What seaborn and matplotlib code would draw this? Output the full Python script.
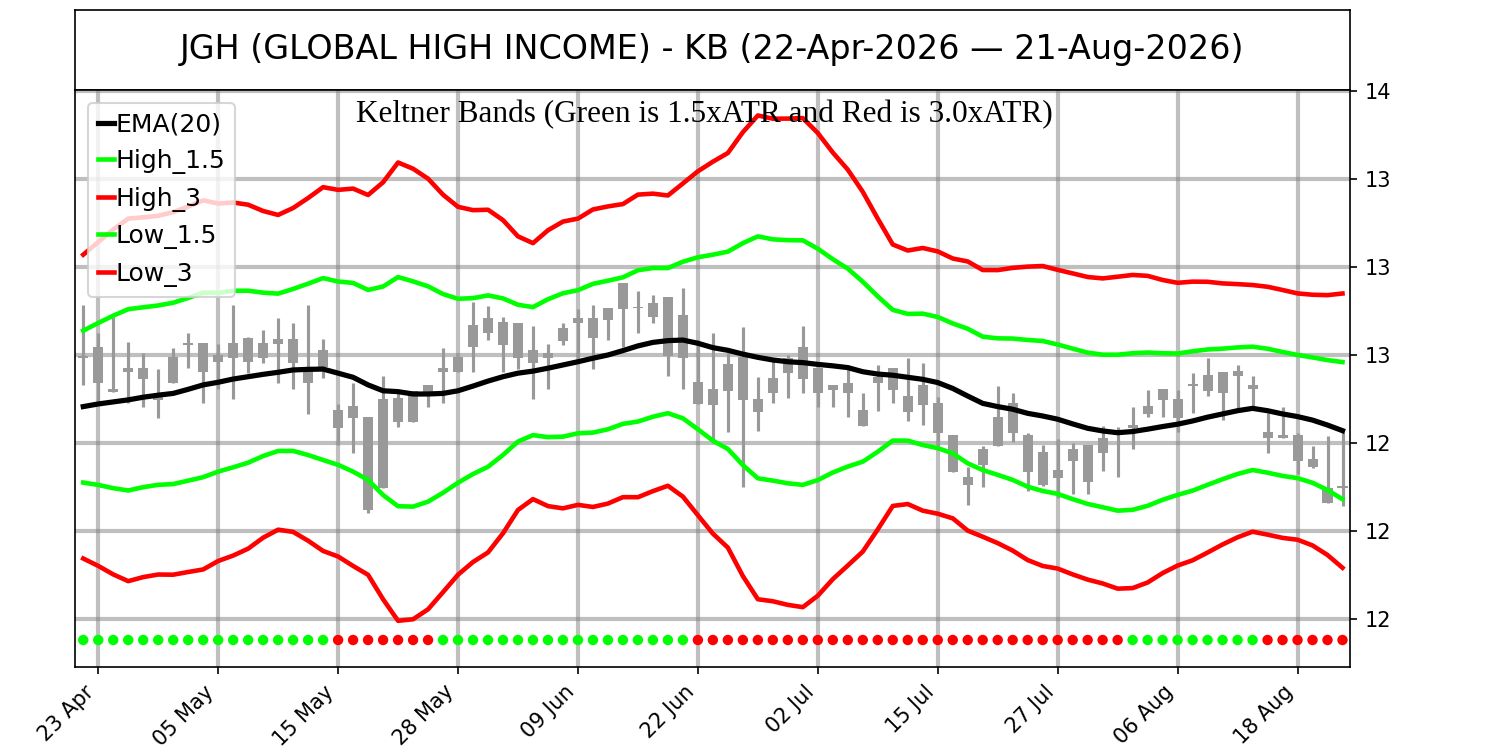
import matplotlib
matplotlib.use("Agg")
import numpy as np
import pandas as pd
import matplotlib.pyplot as plt
import seaborn as sns

# --- data (one bar per trading day, 22-Apr .. 21-Aug) ---
highs = [12.970, 12.875, 12.930, 12.844, 12.807, 12.752, 12.824, 12.875, 12.841, 12.838,
         12.970, 12.861, 12.885, 12.926, 12.909, 12.970, 12.855, 12.633, 12.705, 12.589,
         12.728, 12.670, 12.677, 12.698, 12.824, 12.793, 12.981, 12.967, 12.930, 12.909,
         12.899, 12.838, 12.909, 12.957, 12.970, 12.960, 13.045, 13.018, 13.005, 12.998,
         13.028, 12.851, 12.875, 12.807, 12.895, 12.725, 12.790, 12.800, 12.899, 12.759,
         12.698, 12.766, 12.670, 12.766, 12.756, 12.790, 12.773, 12.657, 12.527, 12.418,
         12.490, 12.694, 12.670, 12.534, 12.493, 12.514, 12.500, 12.493, 12.558, 12.555,
         12.623, 12.681, 12.684, 12.681, 12.739, 12.790, 12.742, 12.766, 12.728, 12.602,
         12.623, 12.534, 12.490, 12.524, 12.538]
lows = [12.698, 12.640, 12.674, 12.636, 12.623, 12.585, 12.705, 12.756, 12.636, 12.684,
        12.650, 12.739, 12.773, 12.705, 12.684, 12.599, 12.722, 12.493, 12.466, 12.261,
        12.347, 12.555, 12.572, 12.623, 12.636, 12.742, 12.742, 12.851, 12.742, 12.752,
        12.650, 12.684, 12.834, 12.790, 12.752, 12.851, 12.827, 12.875, 12.909, 12.728,
        12.684, 12.633, 12.500, 12.538, 12.350, 12.541, 12.636, 12.653, 12.670, 12.623,
        12.623, 12.589, 12.558, 12.609, 12.636, 12.575, 12.561, 12.476, 12.401, 12.289,
        12.350, 12.490, 12.503, 12.336, 12.353, 12.313, 12.326, 12.326, 12.405, 12.384,
        12.480, 12.589, 12.589, 12.538, 12.602, 12.660, 12.578, 12.613, 12.623, 12.466,
        12.517, 12.394, 12.415, 12.295, 12.285]
opens = [12.797, 12.827, 12.684, 12.756, 12.756, 12.664, 12.793, 12.841, 12.841, 12.800,
         12.841, 12.858, 12.841, 12.855, 12.855, 12.756, 12.817, 12.613, 12.626, 12.589,
         12.650, 12.653, 12.677, 12.698, 12.756, 12.793, 12.902, 12.926, 12.912, 12.909,
         12.817, 12.807, 12.892, 12.926, 12.926, 12.960, 13.045, 12.964, 12.977, 12.998,
         12.936, 12.708, 12.684, 12.769, 12.793, 12.650, 12.722, 12.790, 12.827, 12.756,
         12.698, 12.705, 12.613, 12.725, 12.756, 12.660, 12.698, 12.636, 12.527, 12.384,
         12.480, 12.589, 12.636, 12.527, 12.469, 12.408, 12.480, 12.493, 12.517, 12.534,
         12.561, 12.626, 12.684, 12.650, 12.701, 12.732, 12.742, 12.745, 12.698, 12.538,
         12.527, 12.527, 12.445, 12.347, 12.350]
closes = [12.790, 12.705, 12.674, 12.742, 12.718, 12.647, 12.705, 12.834, 12.742, 12.776,
          12.790, 12.776, 12.790, 12.838, 12.773, 12.705, 12.759, 12.551, 12.585, 12.272,
          12.347, 12.572, 12.572, 12.670, 12.742, 12.742, 12.827, 12.875, 12.834, 12.790,
          12.773, 12.790, 12.848, 12.909, 12.858, 12.919, 12.957, 12.960, 12.930, 12.797,
          12.790, 12.633, 12.630, 12.677, 12.647, 12.606, 12.670, 12.739, 12.718, 12.670,
          12.681, 12.670, 12.558, 12.705, 12.681, 12.606, 12.630, 12.534, 12.401, 12.357,
          12.425, 12.490, 12.534, 12.401, 12.357, 12.381, 12.439, 12.367, 12.466, 12.527,
          12.551, 12.599, 12.647, 12.585, 12.694, 12.677, 12.670, 12.728, 12.684, 12.517,
          12.517, 12.439, 12.418, 12.295, 12.347]
ema = [12.624, 12.633, 12.640, 12.647, 12.656, 12.663, 12.669, 12.683, 12.698, 12.707,
       12.718, 12.726, 12.734, 12.741, 12.749, 12.751, 12.752, 12.738, 12.724, 12.698,
       12.678, 12.675, 12.667, 12.667, 12.669, 12.678, 12.694, 12.711, 12.726, 12.738,
       12.745, 12.755, 12.766, 12.777, 12.789, 12.800, 12.815, 12.831, 12.843, 12.849,
       12.851, 12.840, 12.825, 12.816, 12.803, 12.792, 12.783, 12.777, 12.774, 12.768,
       12.763, 12.757, 12.743, 12.735, 12.731, 12.724, 12.717, 12.706, 12.686, 12.660,
       12.635, 12.624, 12.615, 12.601, 12.592, 12.581, 12.565, 12.550, 12.541, 12.535,
       12.539, 12.547, 12.556, 12.564, 12.575, 12.588, 12.599, 12.610, 12.618, 12.610,
       12.599, 12.590, 12.578, 12.561, 12.542]
atr = [0.1727, 0.1841, 0.1961, 0.2061, 0.2045, 0.2039, 0.2061, 0.2077, 0.2098, 0.2032,
       0.2007, 0.1955, 0.1857, 0.1789, 0.1841, 0.1948, 0.2068, 0.2084, 0.2145, 0.2159,
       0.2370, 0.2605, 0.2561, 0.2448, 0.2259, 0.2091, 0.2000, 0.1948, 0.1780, 0.1555,
       0.1455, 0.1568, 0.1630, 0.1627, 0.1691, 0.1689, 0.1666, 0.1720, 0.1691, 0.1650,
       0.1780, 0.1955, 0.2114, 0.2243, 0.2523, 0.2750, 0.2743, 0.2764, 0.2780, 0.2630,
       0.2425, 0.2250, 0.2045, 0.1766, 0.1486, 0.1441, 0.1493, 0.1491, 0.1477, 0.1530,
       0.1516, 0.1552, 0.1607, 0.1668, 0.1705, 0.1698, 0.1711, 0.1720, 0.1734, 0.1773,
       0.1780, 0.1743, 0.1666, 0.1607, 0.1584, 0.1539, 0.1484, 0.1439, 0.1402, 0.1409,
       0.1409, 0.1400, 0.1425, 0.1477, 0.1559]
# trend dots along the bottom: G = EMA rising, R = EMA falling
trend = ("GGGGGGGGGGGGGGGGG" + "RRRRRRR" + "GGGGGGGGGGGGGGGGG"
         + "RRRRRRRRRRRRRRRRRRRRRRRRRRRRR" + "GGGGGGGGG" + "RRRRRR")
dot_level = 11.828

tick_idx = [1, 9, 17, 25, 33, 41, 49, 57, 65, 73, 81]
tick_labels = ['23 Apr', '05 May', '15 May', '28 May', '09 Jun', '22 Jun',
               '02 Jul', '15 Jul', '27 Jul', '06 Aug', '18 Aug']
ytick_vals = [11.9, 12.2, 12.5, 12.8, 13.1, 13.4, 13.7]
ytick_labels = ['12', '12', '12', '13', '13', '13', '14']

title = "JGH (GLOBAL HIGH INCOME) - KB (22-Apr-2026 \u2014 21-Aug-2026)"
subtitle = "Keltner Bands (Green is 1.5xATR and Red is 3.0xATR)"

n = len(ema)
assert len(trend) == n
df = pd.DataFrame({'idx': np.arange(n), 'ema': ema, 'atr': atr})
df['high_15'] = df['ema'] + 1.5 * df['atr']
df['high_3'] = df['ema'] + 3.0 * df['atr']
df['low_15'] = df['ema'] - 1.5 * df['atr']
df['low_3'] = df['ema'] - 3.0 * df['atr']
df['dot'] = dot_level
df['trend'] = list(trend)

fig = plt.figure(figsize=(10, 5), dpi=150)

# title box
ax_t = fig.add_axes([0.05, 0.88, 0.85, 0.1067])
ax_t.set_xticks([])
ax_t.set_yticks([])
ax_t.text(0.5, 0.5, title, ha='center', va='center', fontsize=16)

ax = fig.add_axes([0.05, 0.1107, 0.85, 0.769])
ax.set_axisbelow(True)
ax.grid(True, color='gray', alpha=0.5, lw=2)

# candles (all grey)
o = np.array(opens)
c = np.array(closes)
body_bot = np.minimum(o, c)
body_h = np.maximum(np.abs(o - c), 0.005)
ax.vlines(df['idx'], lows, highs, color='#999999', lw=1.5, zorder=2)
ax.bar(df['idx'], body_h, bottom=body_bot, width=0.67, color='#999999', zorder=2)

sns.lineplot(data=df, x='idx', y='ema', color='black', lw=2.5, label='EMA(20)', ax=ax, zorder=3)
sns.lineplot(data=df, x='idx', y='high_15', color='lime', lw=2.2, label='High_1.5', ax=ax, zorder=3)
sns.lineplot(data=df, x='idx', y='high_3', color='red', lw=2.2, label='High_3', ax=ax, zorder=3)
sns.lineplot(data=df, x='idx', y='low_15', color='lime', lw=2.2, label='Low_1.5', ax=ax, zorder=3)
sns.lineplot(data=df, x='idx', y='low_3', color='red', lw=2.2, label='Low_3', ax=ax, zorder=3)

sns.scatterplot(data=df, x='idx', y='dot', hue='trend', palette={'G': 'lime', 'R': 'red'},
                s=25, linewidth=0, legend=False, ax=ax, zorder=3)

ax.text(0.494, 0.983, subtitle, transform=ax.transAxes, ha='center', va='top',
        fontsize=15, family='Liberation Serif')

ax.legend(loc='upper left', fontsize=12, handlelength=0.65, handletextpad=0.05,
          labelspacing=0.5)

ax.set_xlim(-0.55, 84.5)
ax.set_ylim(11.736, 13.703)
ax.set_xticks(tick_idx)
ax.set_xticklabels(tick_labels, rotation=45, ha='right', fontsize=10)
ax.yaxis.tick_right()
ax.set_yticks(ytick_vals)
ax.set_yticklabels(ytick_labels, fontsize=10)
ax.set_xlabel('')
ax.set_ylabel('')

fig.savefig('out.png', dpi=150)
